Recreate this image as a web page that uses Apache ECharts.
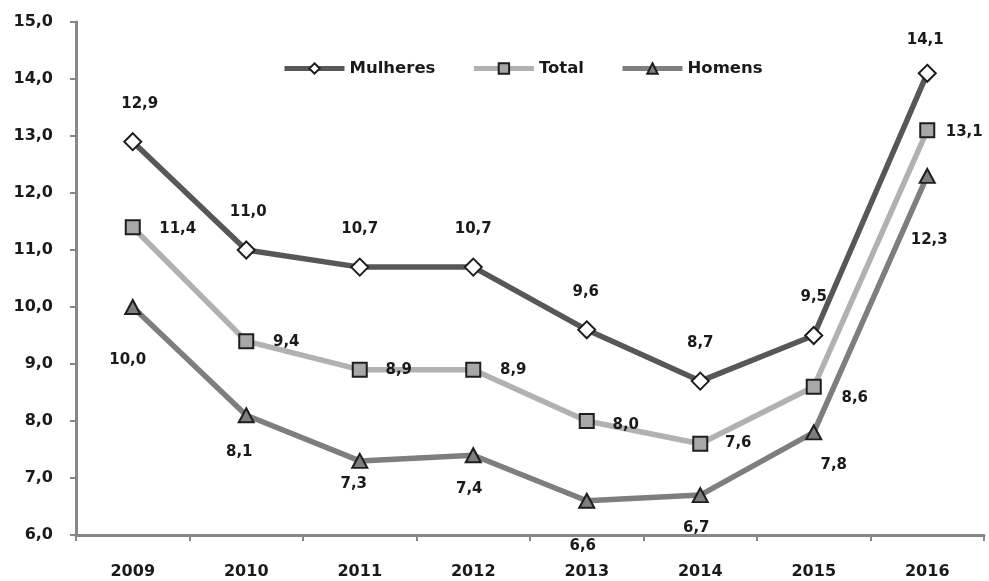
<!DOCTYPE html>
<html><head><meta charset="utf-8">
<script src="https://cdn.jsdelivr.net/npm/echarts@6/dist/echarts.min.js"></script>
<style>html,body{margin:0;padding:0;background:#fff}#c{width:989px;height:581px}</style>
</head><body><div id="c"></div>
<script>
const years = ['2009','2010','2011','2012','2013','2014','2015','2016'];
const mulheres = [12.9, 11.0, 10.7, 10.7, 9.6, 8.7, 9.5, 14.1];
const total = [11.4, 9.4, 8.9, 8.9, 8.0, 7.6, 8.6, 13.1];
const homens = [10.0, 8.1, 7.3, 7.4, 6.6, 6.7, 7.8, 12.3];

// label offsets (style only)
const mulOff = [[7,-38],[2,-38],[0,-38],[0,-38],[-1,-38],[0,-38],[0,-38],[-2,-33]];
const totOff = [[45,2],[40,1],[39,0],[40,0],[39,4],[38,-1],[41,11],[37,2]];
const homOff = [[-5,53],[-7,37],[-6,23],[-4,34],[-4,45],[-4,33],[20,33],[2,64]];

const fmt = v => v.toFixed(1).replace('.', ',');
const font = '"DejaVu Sans", sans-serif';

function mk(vals, offs) {
  return vals.map((v, i) => ({
    value: v,
    label: { show: true, position: 'inside', offset: offs[i] }
  }));
}

const labelBase = { show: true, formatter: p => fmt(p.value), fontFamily: font, fontWeight: 'bold', fontSize: 15, color: '#1a1a1a' };

const chart = echarts.init(document.getElementById('c'));
chart.setOption({
  animation: false,
  grid: { left: 76, right: 5, top: 22, bottom: 46 },
  legend: {
    top: 55, left: 277, itemWidth: 60, itemHeight: 13, itemGap: 36,
    lineStyle: { width: 5 },
    textStyle: { fontFamily: font, fontWeight: 'bold', fontSize: 16.5, color: '#1a1a1a' },
    data: ['Mulheres', 'Total', 'Homens']
  },
  xAxis: {
    type: 'category', data: years, boundaryGap: true,
    axisLine: { lineStyle: { color: '#878787', width: 3 } },
    axisTick: { show: true, length: 6, lineStyle: { color: '#878787', width: 2 } },
    axisLabel: { margin: 29, fontFamily: font, fontWeight: 'bold', fontSize: 16, color: '#1a1a1a' }
  },
  yAxis: {
    type: 'value', min: 6, max: 15, interval: 1,
    splitLine: { show: false },
    axisLine: { show: true, lineStyle: { color: '#878787', width: 3 } },
    axisTick: { show: true, length: 6, lineStyle: { color: '#878787', width: 2 } },
    axisLabel: { margin: 23, formatter: v => fmt(v), fontFamily: font, fontWeight: 'bold', fontSize: 16, color: '#1a1a1a' }
  },
  series: [
    {
      name: 'Mulheres', type: 'line', data: mk(mulheres, mulOff),
      symbol: 'diamond', symbolSize: [17, 17],
      lineStyle: { color: '#575757', width: 5.5 },
      itemStyle: { color: '#ffffff', borderColor: '#1e1e1e', borderWidth: 2 },
      label: labelBase, z: 4
    },
    {
      name: 'Total', type: 'line', data: mk(total, totOff),
      symbol: 'rect', symbolSize: 14,
      lineStyle: { color: '#b1b1b1', width: 5.5 },
      itemStyle: { color: '#a8a8a8', borderColor: '#1e1e1e', borderWidth: 2 },
      label: labelBase, z: 3
    },
    {
      name: 'Homens', type: 'line', data: mk(homens, homOff),
      symbol: 'triangle', symbolSize: [15, 14],
      lineStyle: { color: '#7e7e7e', width: 5.5 },
      itemStyle: { color: '#7e7e7e', borderColor: '#1e1e1e', borderWidth: 2 },
      label: labelBase, z: 2
    }
  ]
});
</script></body></html>
